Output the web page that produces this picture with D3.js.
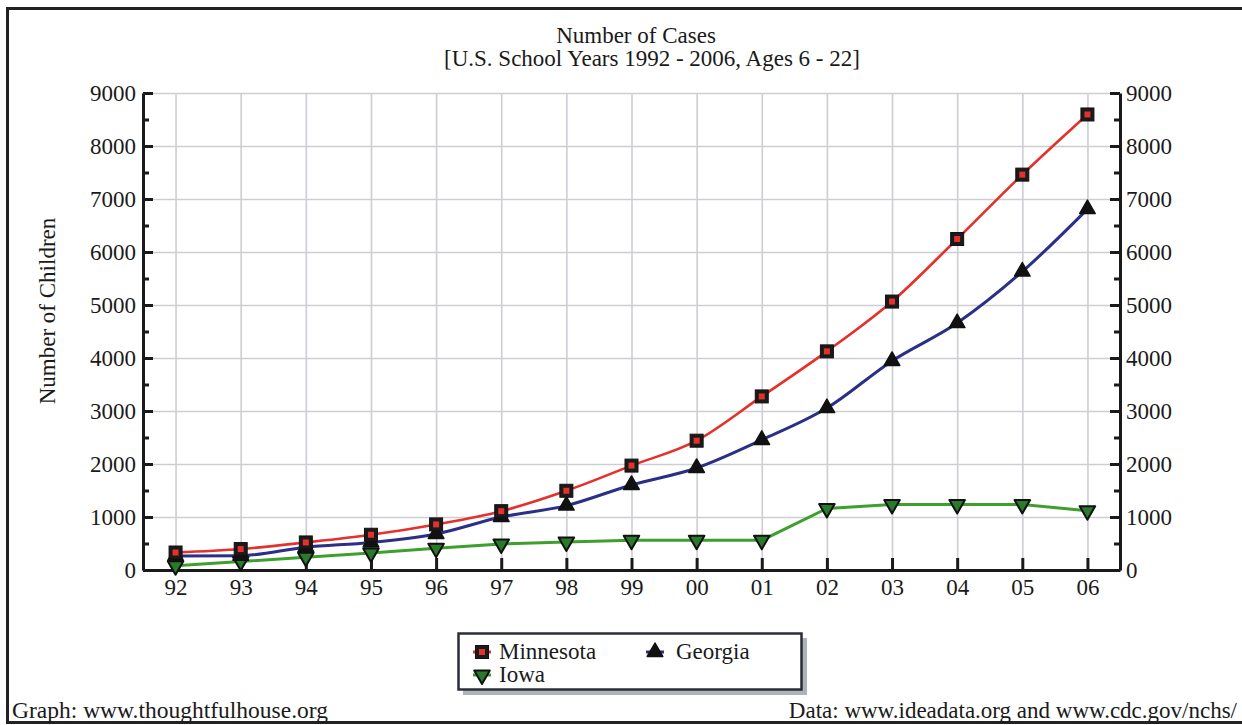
<!DOCTYPE html>
<html>
<head>
<meta charset="utf-8">
<script src="https://cdn.jsdelivr.net/npm/d3@7"></script>
<style>
  html, body { margin: 0; padding: 0; background: #fff; }
  svg { display: block; }
  text { font-family: "Liberation Serif", "Times New Roman", serif; fill: #1a1a1a; }
</style>
</head>
<body>
<svg id="chart" width="1242" height="725"></svg>
<script>
// ---- data ----
const years = ["92","93","94","95","96","97","98","99","00","01","02","03","04","05","06"];
const minnesota = [330, 395, 520, 665, 860, 1110, 1495, 1970, 2440, 3275, 4125, 5065, 6245, 7460, 8595];
const georgia   = [265, 270, 430, 520, 680, 1000, 1215, 1605, 1925, 2455, 3055, 3945, 4660, 5630, 6810];
const iowa      = [80, 160, 240, 320, 410, 490, 530, 560, 560, 560, 1160, 1235, 1235, 1235, 1120];
const seriesNames = ["Minnesota", "Georgia", "Iowa"];
const yTicks = [0, 1000, 2000, 3000, 4000, 5000, 6000, 7000, 8000, 9000];
const yMinorTicks = [500, 1500, 2500, 3500, 4500, 5500, 6500, 7500, 8500];
const titleLines = ["Number of Cases", "[U.S. School Years 1992 - 2006, Ages 6 - 22]"];
const yLabel = "Number of Children";
const footLeft = "Graph: www.thoughtfulhouse.org";
const footRight = "Data: www.ideadata.org and www.cdc.gov/nchs/";

const svg = d3.select("#chart");
const L = 143, R = 1120, T = 93, B = 570;

const x = d3.scaleLinear().domain([-0.5, years.length - 0.5]).range([L, R]);
const y = d3.scaleLinear().domain([0, 9000]).range([B, T]);

// outer frame
svg.append("path")
  .attr("d", `M1250,8.5 H7.5 V722.5 H1250`)
  .attr("fill", "none").attr("stroke", "#222").attr("stroke-width", 3);

// gridlines
const gridColor = "#cdcdd4";
const gx = svg.append("g").attr("transform", `translate(0,${B})`)
  .call(d3.axisBottom(x).tickValues(d3.range(years.length)).tickSize(-(B - T)).tickFormat(""));
gx.select(".domain").remove();
gx.selectAll("line").attr("stroke", gridColor).attr("stroke-width", 1.6);
const gy = svg.append("g").attr("transform", `translate(${L},0)`)
  .call(d3.axisLeft(y).tickValues(yTicks).tickSize(-(R - L)).tickFormat(""));
gy.select(".domain").remove();
gy.selectAll("line").attr("stroke", gridColor).attr("stroke-width", 1.6);

// axes
const axisColor = "#1a1a1a";
function styleAxis(g) {
  g.select(".domain").attr("stroke", axisColor).attr("stroke-width", 3);
  g.selectAll(".tick line").attr("stroke", axisColor).attr("stroke-width", 3);
  g.selectAll(".tick text").attr("font-size", 23).attr("font-family", "Liberation Serif").attr("fill", "#1a1a1a");
}
const leftAxis = svg.append("g").attr("transform", `translate(${L},0)`)
  .call(d3.axisLeft(y).tickValues(yTicks).tickSizeInner(-10).tickSizeOuter(0).tickPadding(7).tickFormat(d3.format("d")));
styleAxis(leftAxis);
const leftMinor = svg.append("g").attr("transform", `translate(${L},0)`)
  .call(d3.axisLeft(y).tickValues(yMinorTicks).tickSizeInner(-6).tickSizeOuter(0).tickFormat(""));
leftMinor.select(".domain").remove();
leftMinor.selectAll("line").attr("stroke", axisColor).attr("stroke-width", 3);

const rightAxis = svg.append("g").attr("transform", `translate(${R},0)`)
  .call(d3.axisRight(y).tickValues(yTicks).tickSizeInner(-10).tickSizeOuter(0).tickPadding(6).tickFormat(d3.format("d")));
styleAxis(rightAxis);
const rightMinor = svg.append("g").attr("transform", `translate(${R},0)`)
  .call(d3.axisRight(y).tickValues(yMinorTicks).tickSizeInner(-6).tickSizeOuter(0).tickFormat(""));
rightMinor.select(".domain").remove();
rightMinor.selectAll("line").attr("stroke", axisColor).attr("stroke-width", 3);

const bottomAxis = svg.append("g").attr("transform", `translate(0,${B})`)
  .call(d3.axisBottom(x).tickValues(d3.range(years.length)).tickSizeInner(-12).tickSizeOuter(0).tickPadding(9).tickFormat(i => years[i]));
styleAxis(bottomAxis);

// lines
const colors = { Minnesota: "#e4312b", Georgia: "#2b2f86", Iowa: "#3e9f2e" };
const data = { Minnesota: minnesota, Georgia: georgia, Iowa: iowa };
const smoothLine = d3.line().x((d, i) => x(i)).y(d => y(d)).curve(d3.curveMonotoneX);
const straightLine = d3.line().x((d, i) => x(i)).y(d => y(d)).curve(d3.curveLinear);

["Iowa", "Georgia", "Minnesota"].forEach(name => {
  svg.append("path").datum(data[name])
    .attr("fill", "none").attr("stroke", colors[name])
    .attr("stroke-width", name === "Minnesota" ? 2.6 : 3)
    .attr("stroke-linejoin", "round")
    .attr("d", name === "Iowa" ? straightLine : smoothLine);
});

// markers
const triUp = d3.symbol().type(d3.symbolTriangle).size(105);
function drawMarker(g, name, cx, cy) {
  if (name === "Minnesota") {
    g.append("rect").attr("x", cx - 6.5).attr("y", cy - 6.5).attr("width", 13).attr("height", 13)
      .attr("fill", "#1a1a1a").attr("stroke", "#111").attr("stroke-width", 1);
    g.append("rect").attr("x", cx - 3).attr("y", cy - 3).attr("width", 6).attr("height", 6)
      .attr("fill", "#e4312b");
  } else if (name === "Georgia") {
    g.append("path").attr("d", triUp()).attr("transform", `translate(${cx},${cy})`)
      .attr("fill", "#111").attr("stroke", "#111").attr("stroke-width", 1.5).attr("stroke-linejoin", "round");
  } else {
    g.append("path").attr("d", triUp()).attr("transform", `translate(${cx},${cy}) rotate(180)`)
      .attr("fill", "#2a7a2a").attr("stroke", "#111").attr("stroke-width", 2).attr("stroke-linejoin", "round");
  }
}
["Iowa", "Georgia", "Minnesota"].forEach(name => {
  const g = svg.append("g");
  data[name].forEach((v, i) => drawMarker(g, name, x(i), y(v)));
});

// title
svg.append("text").attr("x", 636).attr("y", 43).attr("text-anchor", "middle")
  .attr("font-size", 23).text(titleLines[0]);
svg.append("text").attr("x", 652).attr("y", 66).attr("text-anchor", "middle")
  .attr("font-size", 23).text(titleLines[1]);

// y label
svg.append("text").attr("transform", "translate(55,311) rotate(-90)").attr("text-anchor", "middle")
  .attr("font-size", 23).text(yLabel);

// legend
const lg = svg.append("g");
lg.append("rect").attr("x", 463).attr("y", 638).attr("width", 344).attr("height", 57).attr("fill", "#aeb2bb");
lg.append("rect").attr("x", 458.5).attr("y", 633.5).attr("width", 343).attr("height", 56)
  .attr("fill", "#fff").attr("stroke", "#2a2e36").attr("stroke-width", 2.5);
const legendPos = { Minnesota: [482, 652, 499], Georgia: [655, 652, 676], Iowa: [482, 675, 499] };
seriesNames.forEach(name => {
  const [cx, cy, tx] = legendPos[name];
  lg.append("line").attr("x1", cx - 9).attr("x2", cx + 9).attr("y1", cy).attr("y2", cy)
    .attr("stroke", colors[name]).attr("stroke-width", 3);
  drawMarker(lg, name, cx, cy);
  lg.append("text").attr("x", tx).attr("y", cy + 7).attr("font-size", 23).text(name);
});

// footers
svg.append("text").attr("x", 12).attr("y", 718).attr("font-size", 23.5).text(footLeft);
svg.append("text").attr("x", 1237).attr("y", 718).attr("text-anchor", "end").attr("font-size", 23).text(footRight);
</script>
</body>
</html>
